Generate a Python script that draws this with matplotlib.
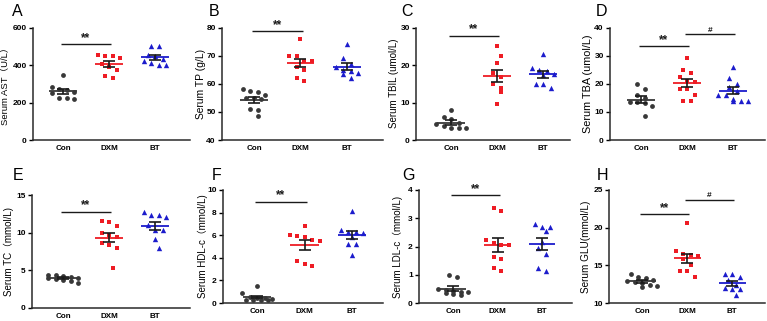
import numpy as np
import matplotlib
matplotlib.use('Agg')
import matplotlib.pyplot as plt

plt.rcParams['font.family'] = ['Liberation Sans', 'Noto Sans CJK SC']

groups = ['Con', 'DXM', 'BT']

# ---- data ----
ast_con = [345, 285, 270, 265, 255, 250, 225, 222, 218]
ast_dxm = [455, 450, 450, 440, 405, 390, 375, 340, 330]
ast_bt = [500, 500, 455, 450, 430, 420, 410, 400, 400]

tp_con = [58, 57.5, 57, 56, 55, 55, 54.5, 51, 50.5, 48.5]
tp_dxm = [76, 70, 69.8, 68, 68, 66, 65, 62, 61]
tp_bt = [74, 69, 67, 66, 65, 64.5, 64, 63.5, 62]

tbil_con = [8, 6.2, 5.5, 4.6, 4.2, 3.8, 3.3, 3.3, 3.1]
tbil_dxm = [25, 22.3, 20.5, 18, 16.8, 15, 14, 12.8, 9.7]
tbil_bt = [23, 19.2, 18.7, 18.5, 17.6, 17.3, 15, 15, 13.8]

tba_con = [20, 18, 16, 15, 13.5, 13.5, 13, 12, 8.5]
tba_dxm = [29, 25, 24, 22.5, 21, 20.5, 18, 18, 16, 14, 14]
tba_bt = [26, 22, 20, 19, 17.5, 16, 16, 14.5, 14, 14, 14]

tc_con = [4.4, 4.3, 4.2, 4.1, 4.0, 3.9, 3.8, 3.7, 3.6, 3.3]
tc_dxm = [11.5, 11.4, 10.9, 10.0, 9.7, 9.4, 8.6, 8.4, 7.9, 5.3]
tc_bt = [12.7, 12.4, 12.4, 12.1, 11.0, 10.3, 10.3, 9.1, 8.0]

hdl_con = [1.5, 0.9, 0.55, 0.45, 0.4, 0.35, 0.3, 0.3, 0.25, 0.3]
hdl_dxm = [6.85, 6.0, 5.95, 5.85, 5.6, 5.45, 3.7, 3.45, 3.3]
hdl_bt = [8.15, 6.5, 6.3, 6.3, 6.2, 5.85, 5.25, 5.2, 4.25]

ldl_con = [1.0, 0.93, 0.5, 0.45, 0.42, 0.4, 0.38, 0.35, 0.33, 0.3]
ldl_dxm = [3.37, 3.25, 2.22, 2.13, 2.05, 2.05, 1.63, 1.54, 1.24, 1.12]
ldl_bt = [2.78, 2.7, 2.7, 2.54, 2.17, 1.93, 1.72, 1.25, 1.12]

glu_con = [13.8, 13.5, 13.3, 13.0, 12.9, 12.8, 12.6, 12.4, 12.2, 12.1]
glu_dxm = [20.6, 16.9, 16.5, 16.4, 16.2, 15.8, 15.0, 14.2, 14.2, 13.5]
glu_bt = [13.9, 13.8, 13.5, 13.0, 12.4, 12.0, 11.9, 11.8, 11.1]

panel_letters = ['A', 'B', 'C', 'D', 'E', 'F', 'G', 'H']
ylabels = ['Serum AST（U/L）', 'Serum TP (g/L)', 'Serum TBIL (umol/L)',
           'Serum TBA (umol/L)', 'Serum TC（mmol/L)', 'Serum HDL-c（mmol/L)',
           'Serum LDL-c（mmol/L)', 'Serum GLU(mmol/L)']
yticks = [[0, 200, 400, 600], [40, 50, 60, 70, 80], [0, 10, 20, 30],
          [0, 10, 20, 30, 40], [0, 5, 10, 15], [0, 2, 4, 6, 8, 10],
          [0, 1, 2, 3, 4], [10, 15, 20, 25]]
# significance: (text, from group, to group, height)
sig_marks = [
    [('**', 0, 1, 510)],
    [('**', 0, 1, 78.7)],
    [('**', 0, 1, 27.8)],
    [('**', 0, 1, 33.3), ('#', 1, 2, 37.6)],
    [('**', 0, 1, 12.8)],
    [('**', 0, 1, 8.97)],
    [('**', 0, 1, 3.82)],
    [('**', 0, 1, 21.8), ('#', 1, 2, 23.7)],
]
panel_data = [
    (ast_con, ast_dxm, ast_bt), (tp_con, tp_dxm, tp_bt),
    (tbil_con, tbil_dxm, tbil_bt), (tba_con, tba_dxm, tba_bt),
    (tc_con, tc_dxm, tc_bt), (hdl_con, hdl_dxm, hdl_bt),
    (ldl_con, ldl_dxm, ldl_bt), (glu_con, glu_dxm, glu_bt),
]

# ---- layout (pixels) ----
W, H = 767, 321
# left spine, Con x, BT x, right end, top, bottom
rects = [
    (33, 63, 155, 190, 27.5, 140),
    (222, 254, 347, 383, 27.5, 140),
    (416, 451, 543, 570, 27.5, 140),
    (610, 641, 733, 765, 27.5, 140),
    (32, 63, 155, 190, 195, 307.7),
    (223, 257, 352, 383, 190, 303),
    (419, 453, 542, 572, 190, 303),
    (609, 642, 732, 765, 190, 303),
]
letter_pos = [(12, 4), (209, 4), (401, 4), (596, 4),
              (13, 168), (212, 168), (402, 168), (597, 168)]
label_x = [9, 206, 399, 593, 14, 208, 403, 591]
label_fs = [6.8, 7.4, 7.0, 7.8, 7.0, 7.0, 7.0, 7.2]

colors = ['#383838', '#ee1c24', '#1c1ccc']
markers = ['o', 's', '^']
sizes = [12, 12, 15]

fig = plt.figure(figsize=(W / 100, H / 100), dpi=100)


def swarm_offsets(vals, bin_h, dx, max_row=5):
    vals = np.asarray(vals, dtype=float)
    order = np.argsort(-vals)
    offs = np.zeros(len(vals))
    i = 0
    row = 0
    while i < len(order):
        j = i
        while (j + 1 < len(order) and j + 1 - i < max_row
               and vals[order[i]] - vals[order[j + 1]] < bin_h):
            j += 1
        k = j - i + 1
        shift = 0.5 * dx if (k == 1 and row % 2 == 1) else 0.0
        for m in range(k):
            offs[order[i + m]] = (m - (k - 1) / 2) * dx + shift
        i = j + 1
        row += 1
    return offs


for p in range(8):
    left, cx, bx, right, top, bottom = rects[p]
    unit = (bx - cx) / 2.0
    ax = fig.add_axes([left / W, 1 - bottom / H, (right - left) / W, (bottom - top) / H])
    ax.set_xlim(-(cx - left) / unit, 2 + (right - bx) / unit)
    yt = yticks[p]
    ax.set_ylim(yt[0], yt[-1])
    yrange = yt[-1] - yt[0]
    px_per_unit_y = (bottom - top) / yrange
    bin_h = 6.5 / px_per_unit_y
    dx = 7.5 / unit

    for g in range(3):
        vals = np.asarray(panel_data[p][g], dtype=float)
        offs = swarm_offsets(vals, bin_h, dx)
        ax.scatter(g + offs, vals, s=sizes[g], marker=markers[g], color=colors[g],
                   linewidths=0, zorder=3)
        mean = vals.mean()
        sem = vals.std(ddof=1) / np.sqrt(len(vals))
        ax.plot([g - 0.3, g + 0.3], [mean, mean], color=colors[g], lw=1.3, zorder=4,
                solid_capstyle='butt')
        ax.errorbar([g], [mean], yerr=[sem], fmt='none', ecolor='#1a1a1a',
                    elinewidth=1.2, capsize=4.2, capthick=1.2, zorder=5)

    for txt, g0, g1, yv in sig_marks[p]:
        ax.plot([g0 - 0.05, g1 + 0.05], [yv, yv], color='#1a1a1a', lw=1.0,
                solid_capstyle='butt', clip_on=False)
        fs = 8.5 if txt == '**' else 6
        ax.text((g0 + g1) / 2, yv + yrange * 0.003, txt, ha='center', va='bottom',
                fontsize=fs, fontweight='bold', color='#1a1a1a')

    for s in ['top', 'right']:
        ax.spines[s].set_visible(False)
    for s in ['left', 'bottom']:
        ax.spines[s].set_color('#2a2a2a')
        ax.spines[s].set_linewidth(1.1)
    ax.set_yticks(yt)
    ax.set_yticklabels([str(v) for v in yt], fontsize=6, fontweight='bold')
    ax.set_xticks([0, 1, 2])
    ax.set_xticklabels(groups, fontsize=5.8, fontweight='bold')
    ax.tick_params(axis='x', length=0, pad=3.5)
    ax.tick_params(axis='y', length=3, width=1, pad=1.5, direction='out')
    ax.set_ylabel(ylabels[p], fontsize=label_fs[p])
    ax.yaxis.set_label_coords((label_x[p] - left) / (right - left), 0.5)

    lx, ly = letter_pos[p]
    fig.text(lx / W, 1 - ly / H, panel_letters[p], fontsize=11.5, ha='left', va='top')

fig.savefig('out.png', dpi=100)
